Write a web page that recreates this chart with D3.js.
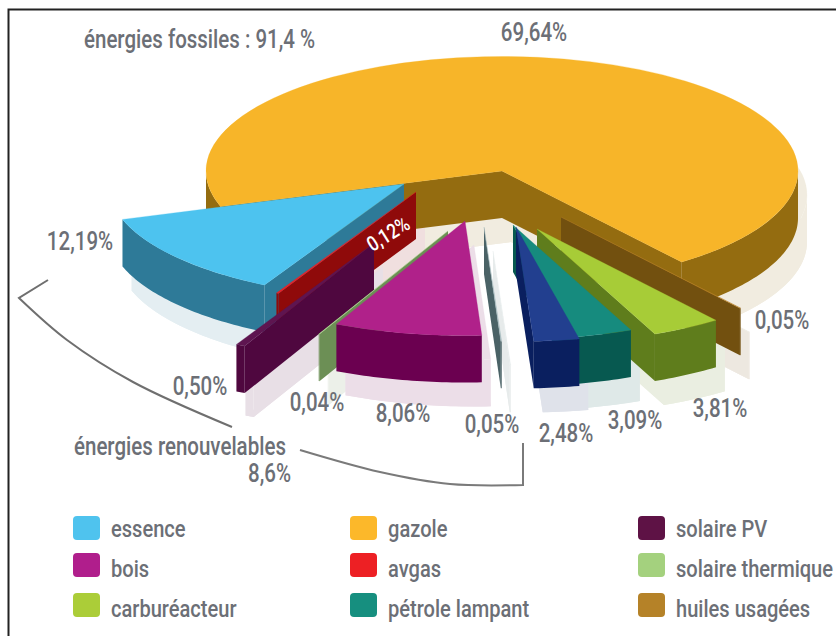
<!DOCTYPE html>
<html lang="fr">
<head>
    <meta charset="utf-8">
    <title>Energies</title>
    <script src="https://d3js.org/d3.v7.min.js"></script>
    <style>
        html, body { margin: 0; background: #fff; }
        svg { display: block; }
        text { font-family: "Roboto", sans-serif; font-weight: 500; fill: #6c6f76; }
    </style>
</head>
<body>
<script>
    //values, in the order the slices go round the pie
    var categories = ["gazole", "huiles usagées", "carburéacteur", "pétrole lampant", "autre 1", "autre 2", "bois", "solaire thermique", "solaire PV", "avgas", "essence"];
    var values = [69.64, 0.05, 3.81, 3.09, 2.48, 0.05, 8.06, 0.04, 0.50, 0.12, 12.19];
    var valueLabels = ["69,64%", "0,05%", "3,81%", "3,09%", "2,48%", "0,05%", "8,06%", "0,04%", "0,50%", "0,12%", "12,19%"];
    var legendNames = ["essence", "bois", "carburéacteur", "gazole", "avgas", "pétrole lampant", "solaire PV", "solaire thermique", "huiles usagées"];

    //colours and how far each slice is pulled away
    var topColors = ["#f7b529", "#b8832a", "#a7cc37", "#168b7e", "#223f8f", "#a9bcc0", "#b0218a", "#a0d080", "#5e1550", "#ed2024", "#4dc3ef"];
    var wallColors = ["#946c10", "#72500f", "#5f7d1c", "#075950", "#0a1f5f", "#4a6266", "#6b0050", "#6c8f55", "#4f073f", "#8f0a0a", "#2e7a98"];
    var pullX = [0, 59, 35, 11, 14, -18, -37, -54, -128, -86, -98];
    var pullY = [0, 46, 58, 54, 56, 56, 50, 60, 72, 21, 13];
    var drawOrder = [0, 1, 2, 3, 4, 5, 10, 9, 8, 7, 6];

    var w = 836, h = 636;
    var cx = 502, cy = 171;
    var radius = 296;
    var tilt = 0.387;
    var depth = 47;
    var rad = Math.PI / 180;
    var squeeze = 0.82; //the lettering of the picture is tall and narrow

    var svg = d3.select("body").append("svg").attr("width", w).attr("height", h);

    //frame, only on the top and left
    svg.append("path")
        .attr("d", "M8.5," + h + "V9.5H" + w)
        .attr("fill", "none")
        .attr("stroke", "#222")
        .attr("stroke-width", 2);

    var start = -108 * rad;
    var pie = d3.pie().sort(null).startAngle(start).endAngle(start + 2 * Math.PI);
    var arcs = pie(values);

    var arc = d3.arc().innerRadius(0).outerRadius(radius);
    var line = d3.line();

    function project(a, z) {
        return [radius * Math.sin(a), -radius * Math.cos(a) * tilt + z];
    }

    //radial wall at one angle
    function radialWall(a) {
        return line([[0, 0], project(a, 0), project(a, depth), [0, depth]]) + "Z";
    }

    //part of the rim between two angles
    function rimWall(a0, a1) {
        var n = Math.max(2, Math.ceil((a1 - a0) / rad));
        var angles = d3.range(n + 1).map(function(i) { return a0 + (a1 - a0) * i / n; });
        var top = angles.map(function(a) { return project(a, 0); });
        var bottom = angles.slice().reverse().map(function(a) { return project(a, depth); });
        return line(top.concat(bottom)) + "Z";
    }

    function drawSlice(g, d, wallColor, topColor) {
        //walls turned to the viewer
        if (Math.sin(d.startAngle) < 0) {
            g.append("path").attr("d", radialWall(d.startAngle)).attr("fill", wallColor);
        }
        if (Math.sin(d.endAngle) > 0) {
            g.append("path").attr("d", radialWall(d.endAngle)).attr("fill", wallColor);
        }
        //front of the rim is 90 to 270 degrees, once per turn
        [[90, 270], [450, 630], [-270, -90]].forEach(function(r) {
            var lo = Math.max(d.startAngle, r[0] * rad);
            var hi = Math.min(d.endAngle, r[1] * rad);
            if (hi > lo) {
                g.append("path").attr("d", rimWall(lo, hi)).attr("fill", wallColor);
            }
        });
        g.append("path")
            .attr("transform", "scale(1," + tilt + ")")
            .attr("d", arc(d))
            .attr("fill", topColor)
            .attr("stroke", topColor)
            .attr("stroke-width", 0.4);
    }

    //pale shadows first, all of them under the slices
    var shadows = svg.append("g").attr("transform", "translate(9,24)");
    drawOrder.forEach(function(i) {
        var c = d3.interpolateRgb(wallColors[i], "#fff")(0.87);
        var g = shadows.append("g").attr("transform", "translate(" + (cx + pullX[i]) + "," + (cy + pullY[i]) + ")");
        g.append("path")
            .attr("transform", "translate(0," + depth + ") scale(1," + tilt + ")")
            .attr("d", arc(arcs[i]))
            .attr("fill", c);
        drawSlice(g, arcs[i], c, c);
    });

    drawOrder.forEach(function(i) {
        var g = svg.append("g")
            .attr("class", "slice")
            .attr("transform", "translate(" + (cx + pullX[i]) + "," + (cy + pullY[i]) + ")");
        drawSlice(g, arcs[i], wallColors[i], topColors[i]);
    });

    //place a text and squeeze it sideways
    function place(x, y, angle) {
        return "translate(" + x + "," + y + ") rotate(" + (angle || 0) + ") scale(" + squeeze + ",1)";
    }

    //value labels, same order as values
    var labelX = [534, 782, 720, 635, 566, 492, 403, 317, 200, 392, 80];
    var labelY = [41, 329, 417, 429, 442, 433, 422, 411, 395, 240, 250];

    svg.append("g").selectAll("text")
        .data(valueLabels)
        .enter()
        .append("text")
        .attr("font-size", function(d, i) { return categories[i] === "avgas" ? 21 : 25; })
        .attr("text-anchor", "middle")
        .attr("transform", function(d, i) {
            return place(labelX[i], labelY[i], categories[i] === "avgas" ? -32 : 0);
        })
        .style("fill", function(d, i) { return categories[i] === "avgas" ? "#fff" : null; })
        .text(function(d) { return d; });

    svg.append("text").attr("transform", place(84, 48)).attr("font-size", 25).text("énergies fossiles : 91,4 %");
    svg.append("text").attr("transform", place(74, 455)).attr("font-size", 25).text("énergies renouvelables");
    svg.append("text").attr("transform", place(291, 482)).attr("font-size", 25).attr("text-anchor", "end").text("8,6%");

    //brace lines around the renewables
    var curve = d3.line().curve(d3.curveCatmullRom);
    svg.append("path")
        .attr("d", "M48,280L19,298" + curve([[19, 298], [67, 340], [133, 382], [232, 427]]).replace("M19,298", ""))
        .attr("fill", "none").attr("stroke", "#6f6f6f").attr("stroke-width", 2);
    svg.append("path")
        .attr("d", curve([[300, 450], [380, 472], [450, 484], [523, 485]]) + "V443")
        .attr("fill", "none").attr("stroke", "#7a7a7a").attr("stroke-width", 2);

    //legend, three columns of three
    var legendColors = ["#4fc3ee", "#b01e8c", "#abcd38", "#fcb82a", "#ed2024", "#168f7f", "#5e1245", "#a4d17e", "#b58228"];
    var colX = d3.scaleOrdinal().domain([0, 1, 2]).range([73, 350, 638]);
    var rowY = d3.scaleOrdinal().domain([0, 1, 2]).range([516, 553, 593]);
    var baseY = d3.scaleOrdinal().domain([0, 1, 2]).range([21, 24, 24]);

    var legend = svg.append("g").selectAll("g")
        .data(legendNames)
        .enter()
        .append("g")
        .attr("transform", function(d, i) {
            return "translate(" + colX(Math.floor(i / 3)) + "," + rowY(i % 3) + ")";
        });

    legend.append("rect")
        .attr("width", 27).attr("height", 24).attr("rx", 4)
        .attr("fill", function(d, i) { return legendColors[i]; });

    legend.append("text")
        .attr("transform", function(d, i) { return place(38, baseY(i % 3)); })
        .attr("font-size", 24.5)
        .text(function(d) { return d; });
</script>
</body>
</html>
